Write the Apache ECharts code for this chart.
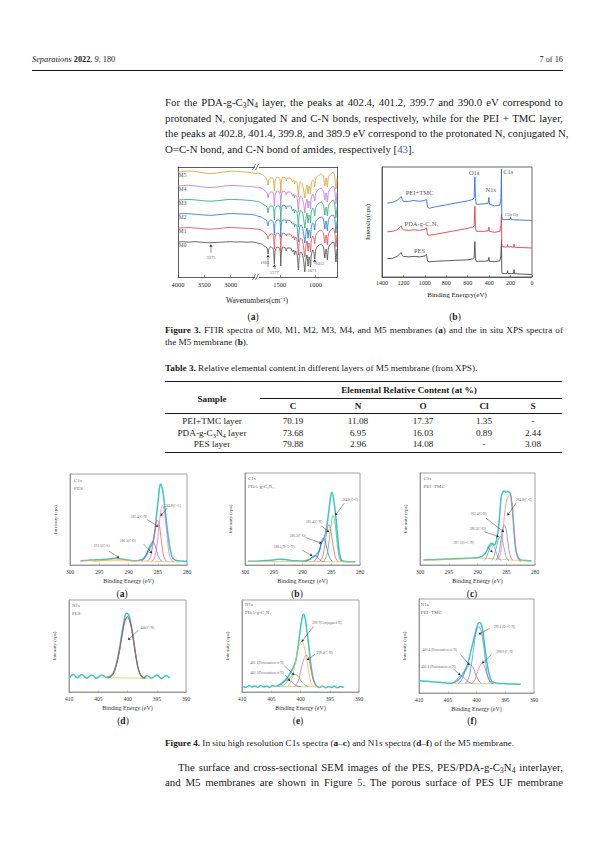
<!DOCTYPE html>
<html>
<head>
<meta charset="utf-8">
<title>Separations 2022, 9, 180 — page 7</title>
<script src="https://cdn.jsdelivr.net/npm/echarts@6.0.0/dist/echarts.min.js"></script>
<style>
html,body{margin:0;padding:0;background:#fff;}
#page{position:relative;width:595px;height:842px;overflow:hidden;font-family:'Liberation Serif','Times New Roman',serif;color:#1a1a1a;}
#chart{position:absolute;left:0;top:0;width:595px;height:842px;}
.t{position:absolute;white-space:nowrap;}
.body{left:165px;width:398px;font-size:10.8px;line-height:12px;}
.j{text-align:justify;text-align-last:justify;}
.cap{left:165px;width:398px;font-size:9.2px;line-height:11px;}
sub{font-size:0.7em;vertical-align:-0.25em;line-height:0;}
.rule{position:absolute;background:#1a1a1a;}
.c{position:absolute;transform:translateX(-50%);white-space:nowrap;font-size:9.2px;line-height:10px;}
.lbl{position:absolute;transform:translateX(-50%);font-size:9.5px;line-height:10px;}
.ref{color:#3b62a8;}
</style>
</head>
<body>
<div id="page">
  <div id="chart"></div>

  <div class="t" style="left:32px;top:55px;font-size:8.3px;line-height:10px;"><i>Separations</i> <b>2022</b>, <i>9</i>, 180</div>
  <div class="t" style="right:32px;top:55px;font-size:8.3px;line-height:10px;">7 of 16</div>
  <div class="rule" style="left:32px;top:70px;width:531px;height:0.8px;"></div>

  <div class="t body j" style="top:96px;">For the PDA-g-C<sub>3</sub>N<sub>4</sub> layer, the peaks at 402.4, 401.2, 399.7 and 390.0 eV correspond to</div>
  <div class="t body j" style="top:111.5px;">protonated N, conjugated N and C-N bonds, respectively, while for the PEI + TMC layer,</div>
  <div class="t body j" style="top:127px;">the peaks at 402.8, 401.4, 399.8, and 389.9 eV correspond to the protonated N, conjugated N,</div>
  <div class="t body" style="top:142.5px;">O=C-N bond, and C-N bond of amides, respectively [<span class="ref">43</span>].</div>

  <div class="lbl" style="left:253px;top:312px;">(<b>a</b>)</div>
  <div class="lbl" style="left:455px;top:312px;">(<b>b</b>)</div>

  <div class="t cap j" style="top:324.5px;"><b>Figure 3.</b> FTIR spectra of M0, M1, M2, M3, M4, and M5 membranes (<b>a</b>) and the in situ XPS spectra of</div>
  <div class="t cap" style="top:336.5px;">the M5 membrane (<b>b</b>).</div>

  <div class="t cap" style="top:362.5px;"><b>Table 3.</b> Relative elemental content in different layers of M5 membrane (from XPS).</div>
  <div id="table"></div>

  <div class="lbl" style="left:122px;top:589px;">(<b>a</b>)</div>
  <div class="lbl" style="left:297px;top:589px;">(<b>b</b>)</div>
  <div class="lbl" style="left:472px;top:589px;">(<b>c</b>)</div>
  <div class="lbl" style="left:123px;top:716px;">(<b>d</b>)</div>
  <div class="lbl" style="left:298px;top:716px;">(<b>e</b>)</div>
  <div class="lbl" style="left:472px;top:716px;">(<b>f</b>)</div>

  <div class="t cap" style="top:737.5px;"><b>Figure 4.</b> In situ high resolution C1s spectra (<b>a</b>–<b>c</b>) and N1s spectra (<b>d</b>–<b>f</b>) of the M5 membrane.</div>

  <div class="t body j" style="top:761px;left:178px;width:385px;">The surface and cross-sectional SEM images of the PES, PES/PDA-g-C<sub>3</sub>N<sub>4</sub> interlayer,</div>
  <div class="t body j" style="top:776px;">and M5 membranes are shown in Figure <span class="ref">5</span>. The porous surface of PES UF membrane</div>
</div>

<script>
// ---------------- Table 3 data ----------------
const tableCols = ['C', 'N', 'O', 'Cl', 'S'];
const tableSamples = ['PEI+TMC layer', 'PDA-g-C<sub>3</sub>N<sub>4</sub> layer', 'PES layer'];
const tableValues = [
  ['70.19', '11.08', '17.37', '1.35', '-'],
  ['73.68', '6.95', '16.03', '0.89', '2.44'],
  ['79.88', '2.96', '14.08', '-', '3.08']
];

// ---------------- Figure 3a: FTIR ----------------
const ftirLeftX = [4000,3900,3800,3700,3600,3500,3400,3300,3200,3100,3000,2900,2800,2700,2600,2500];
const ftirRightX = [1820,1760,1720,1690,1675,1665,1655,1630,1600,1587,1577,1567,1540,1505,1494,1487,1480,1460,1420,1410,1395,1350,1320,1305,1295,1280,1260,1250,1240,1230,1210,1185,1165,1150,1140,1120,1105,1092,1080,1071,1060,1040,1025,1012,1000,970,920,890,870,860,850,835,820,790,750,730,715,705,700];
const M0_left = [0,0.3,-0.2,0.3,0,-0.4,-0.8,-0.5,-0.2,0,0.3,0,0.2,-0.2,0,-0.6];
const M1_left = [0,0.2,0.4,0,-0.3,-0.8,-1.2,-0.8,-0.3,0.2,0.5,0.2,0,-0.3,-0.5,-1.2];
const M2_left = [0,0.4,0.2,-0.2,-0.6,-1,-1.3,-1,-0.5,0,0.4,0.3,0,-0.2,-0.6,-1.5];
const M3_left = [0,0.3,0.5,0.2,-0.3,-0.9,-1.2,-0.9,-0.4,0.2,0.6,0.4,0.2,-0.2,-0.6,-1.4];
const M4_left = [0,0.4,0.6,0.3,-0.4,-1.1,-1.5,-1.2,-0.6,0,0.5,0.4,0.1,-0.3,-0.7,-1.6];
const M5_left = [0,0.5,0.9,0.6,-0.2,-1,-1.6,-1.3,-0.5,0.3,0.8,0.6,0.3,-0.2,-0.8,-1.8];
const M0_right = [-1,-2,-4,-5,-7,-12,-7,-5,-6,-9,-22,-9,-5,-6,-10,-24,-10,-5,-6,-9,-6,-6,-10,-8,-13,-9,-12,-18,-28,-16,-10,-12,-20,-30,-20,-13,-24,-15,-18,-25,-13,-8,-10,-17,-8,-4,-2,-5,-16,-8,-7,-18,-6,-2,0,-5,-20,-11,-7];
const M1_right = [-1,-2,-4,-6,-8,-11,-8,-6,-6,-9,-21,-9,-5,-6,-10,-23,-10,-5,-6,-8,-6,-6,-10,-8,-12,-9,-12,-18,-27,-16,-10,-12,-21,-29,-20,-13,-23,-15,-17,-24,-13,-8,-10,-16,-8,-4,-2,-5,-15,-8,-7,-17,-6,-2,0,-5,-19,-11,-7];
const M2_right = [-2,-3,-5,-6,-9,-12,-8,-6,-7,-10,-21,-9,-6,-6,-10,-23,-10,-6,-6,-9,-6,-7,-10,-9,-13,-10,-12,-19,-28,-16,-11,-13,-21,-29,-21,-14,-24,-16,-18,-24,-13,-9,-10,-16,-8,-5,-3,-5,-15,-8,-7,-17,-6,-2,-1,-5,-19,-11,-7];
const M3_right = [-1,-3,-5,-6,-8,-13,-8,-6,-6,-9,-20,-9,-6,-6,-10,-22,-10,-5,-6,-9,-6,-6,-11,-9,-13,-10,-12,-18,-27,-15,-10,-12,-20,-28,-20,-13,-23,-15,-17,-23,-12,-8,-10,-16,-8,-4,-2,-5,-15,-8,-7,-16,-6,-2,0,-5,-18,-10,-7];
const M4_right = [-1,-2,-4,-6,-8,-12,-8,-6,-6,-9,-20,-9,-5,-6,-10,-22,-10,-5,-6,-9,-6,-6,-10,-8,-12,-9,-11,-17,-26,-15,-10,-12,-19,-27,-19,-13,-22,-15,-17,-23,-12,-8,-10,-15,-8,-4,-2,-5,-14,-8,-7,-16,-6,-2,0,-5,-18,-10,-6];
const M5_right = [-1,-2,-4,-6,-9,-13,-8,-6,-6,-9,-19,-9,-5,-6,-10,-21,-10,-5,-6,-9,-6,-6,-10,-8,-12,-9,-11,-17,-25,-15,-10,-12,-19,-26,-19,-13,-22,-14,-16,-22,-12,-8,-9,-15,-7,-4,-2,-4,-14,-7,-6,-15,-5,-2,0,-5,-17,-10,-6];
const ftirNames = ['M0','M1','M2','M3','M4','M5'];
const ftirTickLeft = [4000, 3500, 3000];
const ftirTickRight = [1500, 1000];

// ---------------- Figure 3b: XPS survey ----------------
const surveyBE = [1350,1300,1260,1230,1220,1212,1200,1150,1100,1050,1000,985,975,960,900,800,700,600,550,540,533,528,520,500,450,410,402,397,350,300,290,285,282,278,250,232,228,224,205,200,195,172,168,163,100,0];
const surveyTMC = [75.3,76,78,81,82,79,77,77,78,77,78,79,71,70,71.5,73.5,75.5,77.5,79,81,102,80,74,74,74.5,75,81,74,72.5,73,80,110,62,59,58.5,58.5,58.8,58.5,58.5,61,58.5,58.3,58.8,58.3,58,57.5];
const surveyPDA = [46,46.5,48,51,52,49,48,47.5,48,47.5,48.5,50,43,42.5,43.5,45.5,47.5,49.5,51,52,72,50,46.5,46.5,46.5,47,51,46.5,45.5,46.5,52,64,33,31,30.5,30.5,33,30.5,30.5,31.5,30.5,30.3,33.5,30.3,30,29.5];
const surveyPES = [18.7,19,21,24,25,22,21,20.5,21,20.5,21.5,23,16,15.5,16,16.5,17,17.5,18.5,19.5,36,18,16,16,16,16.5,20,16,15.5,16.5,22,38,5,3.5,3.5,3.5,6.5,3.5,3.5,3.8,3.5,3.4,7.5,3.4,3,2.5];

// ---------------- Figure 4: high-resolution C1s / N1s ----------------
const c1sPES_raw = [[298.2,4.8],[297,5.2],[296,5.6],[295,5.8],[294,6.2],[293,7],[292.3,7.4],[291.5,7],[290.5,6],[289.5,5],[288.6,4.8],[287.7,6],[287.2,9],[286.8,13],[286.2,20],[285.8,26],[285.5,36],[285.2,55],[284.9,73],[284.7,85],[284.5,89],[284.3,86],[284.1,80],[283.8,64],[283.5,47],[283.2,31],[282.9,18],[282.6,10],[282.3,6.6],[281.8,5],[281.2,4.4],[280.5,4.2],[280,4]];
const c1sPES_CC = [[286,4],[285.5,9],[285.1,24],[284.8,42],[284.5,58],[284.2,66],[283.9,60],[283.6,44],[283.3,25],[283,11],[282.6,5],[282.2,4]];
const c1sPES_CN = [[286.8,4],[286.3,8],[285.9,20],[285.5,38],[285.1,49],[284.8,46],[284.5,33],[284.2,18],[283.9,8],[283.5,4]];
const c1sPES_CO = [[287.8,4],[287.3,7],[286.8,14],[286.3,22],[285.9,25.5],[285.5,22],[285.1,13],[284.7,7],[284.3,4]];
const c1sPES_CS = [[296,4],[294.5,4.8],[293,6],[292,6.5],[291,6],[290,5],[289,4.2]];
const c1sPES_bg = [[298.2,4.4],[294,4.8],[290,4.6],[287,4.3],[285,4],[283,3.7],[281,3.5]];

const c1sPDA_raw = [[299.5,4],[298,4.2],[296.5,4.8],[295,5.5],[294,6.3],[293,6],[292,5],[291,4.5],[290,4.3],[289.5,4.7],[288.8,6],[288.3,8],[287.8,10],[287.4,12.7],[287,17],[286.7,24],[286.3,28],[286,35],[285.7,45],[285.4,60],[285.2,70],[284.9,79],[284.7,76],[284.5,68],[284.2,52],[284,39],[283.8,25],[283.6,14],[283.4,8],[283.2,5],[282.5,3.8],[281.5,3.5],[280.8,3.5]];
const c1sPDA_CC = [[286.3,4],[285.8,10],[285.4,25],[285,45],[284.7,54],[284.4,48],[284.1,32],[283.8,15],[283.5,6],[283.1,4]];
const c1sPDA_CN = [[287,4],[286.5,9],[286.1,22],[285.7,38],[285.4,44],[285.1,38],[284.7,22],[284.3,9],[283.9,4]];
const c1sPDA_CO = [[288,4],[287.5,8],[287,17],[286.7,25],[286.4,29],[286.1,26],[285.7,17],[285.3,8],[284.8,4]];
const c1sPDA_NCN = [[289.5,3.8],[289,5],[288.5,7.5],[288,10],[287.6,9.5],[287.2,7],[286.7,4.5],[286.2,3.8]];
const c1sPDA_bg = [[299.5,3.8],[294,3.9],[290,3.8],[286,3.7],[282,3.5],[280.8,3.5]];

const c1sTMC_raw = [[299.4,5.4],[298,5.8],[296,6.3],[294,6.8],[292,7.3],[290.1,8],[289.4,9],[288.9,10.9],[288.5,14],[288.2,18],[287.9,21.5],[287.6,23.6],[287.3,23],[287.1,21.7],[286.9,23],[286.7,27],[286.5,34],[286.3,43],[286.1,58],[285.9,73],[285.7,78],[285.5,80],[285.3,80.5],[285.1,79],[284.9,79.5],[284.8,80],[284.6,79.5],[284.3,78],[284.1,70],[283.9,58],[283.7,41],[283.5,25],[283.3,15],[283,9],[282.5,5.4],[281.5,4.8],[280.6,4.5]];
const c1sTMC_CC = [[286.5,5],[286,12],[285.6,35],[285.2,60],[284.8,73],[284.4,76],[284,66],[283.6,38],[283.2,13],[282.8,5],[282.4,4]];
const c1sTMC_CN = [[286.8,5],[286.3,12],[285.9,28],[285.6,40],[285.3,43],[285,38],[284.7,24],[284.3,10],[283.9,5]];
const c1sTMC_CO = [[287.5,5],[287.1,10],[286.7,20],[286.3,29],[286,31],[285.7,27],[285.3,16],[284.9,7],[284.5,4.5]];
const c1sTMC_OCN = [[288.8,5],[288.4,9],[288,16],[287.7,21],[287.4,22.5],[287.1,20],[286.7,13],[286.3,7],[285.9,5]];
const c1sTMC_bg = [[299.4,5],[295,6],[291,7],[289,7.3],[287,6.8],[285,5.8],[283,5],[281,4.5]];

const n1sPES_raw = [[409.8,16],[409.3,19],[408.6,15.5],[407.8,19],[407,15],[406.1,18.5],[405.3,15],[404.4,18.5],[403.6,16],[403,17],[402.5,20],[402,28],[401.5,43],[401,62],[400.6,77],[400.2,85.5],[399.8,84],[399.4,74],[399,58],[398.6,40],[398.2,26],[397.8,19],[397.3,15],[396.7,18],[395.9,15],[395,18.5],[394.2,14.5],[393.4,18],[392.8,15]];
const n1sPES_CN = [[403.5,15],[402.8,17],[402.2,24],[401.6,38],[401,58],[400.5,75],[400.1,81],[399.6,76],[399.1,60],[398.6,40],[398.1,24],[397.5,16.5],[397,15]];
const n1sPES_env = [[403.3,15.2],[402.6,18],[402,27],[401.4,43],[400.9,63],[400.4,78],[400,82],[399.5,75],[399,58],[398.5,37],[398,22],[397.4,16],[396.8,15.2]];
const n1sPES_bg = [[404.5,15.5],[400,15.2],[396,15]];

const n1sPDA_raw = [[409.8,6],[409.3,5],[408.8,7],[408.3,5.5],[407.8,6.5],[407.3,5],[406.8,7],[406.3,5.5],[405.8,6.5],[405.3,5],[404.8,7],[404.3,6],[403.8,7.5],[403.3,9],[402.8,12],[402.3,15],[401.8,20],[401.3,26],[400.8,34],[400.4,50],[400.1,65],[399.8,78],[399.5,84.5],[399.2,80],[398.9,66],[398.6,51],[398.3,34],[398,20],[397.6,10],[397.2,6],[396.7,5],[396.2,6.5],[395.7,4.5],[395.2,6],[394.7,5],[394.2,6.5],[393.7,4.5],[393.2,6],[392.6,5]];
const n1sPDA_conj = [[402.2,6],[401.6,12],[401,28],[400.5,45],[400.1,53],[399.8,55],[399.4,50],[399,38],[398.6,22],[398.2,10],[397.8,6]];
const n1sPDA_CN = [[401,6],[400.4,12],[399.9,25],[399.4,36],[399,40],[398.6,36],[398.2,24],[397.7,11],[397.2,6]];
const n1sPDA_p1 = [[403.3,6],[402.6,9],[402,14],[401.4,18],[400.9,19],[400.4,17],[399.9,12],[399.3,8],[398.7,6]];
const n1sPDA_p2 = [[403.8,6],[403.3,8],[402.8,11],[402.2,13],[401.7,12],[401.2,9],[400.6,6.5],[400,6]];
const n1sPDA_bg = [[405,6],[400,5.8],[396,5.6]];

const n1sTMC_raw = [[409.8,13],[409,12.5],[408.2,12.3],[407.4,11.8],[406.6,11.5],[405.8,11],[405,10.5],[404.4,10.3],[403.9,11],[403.4,12.8],[402.9,15.5],[402.5,19],[402,24],[401.6,30],[401.3,36],[401,44],[400.6,54],[400.3,62],[400,69],[399.7,74],[399.4,75],[399.1,72],[398.8,62],[398.6,51],[398.3,38],[398,26],[397.7,18],[397.4,12.8],[396.9,11],[396.4,10.3],[395.5,10],[394.5,9.7],[393.5,9.5],[392.3,9.2]];
const n1sTMC_OCN = [[402,10],[401.4,15],[400.9,30],[400.4,52],[400,66],[399.6,70.5],[399.2,66],[398.8,52],[398.4,32],[398,17],[397.5,11],[397,10]];
const n1sTMC_CN = [[400.8,10],[400.3,14],[399.8,23],[399.3,30],[399,31.6],[398.6,28],[398.2,20],[397.7,13],[397.2,10]];
const n1sTMC_p1 = [[403.2,10],[402.6,14],[402.1,21],[401.6,27],[401.1,30],[400.6,27],[400.1,19],[399.6,13],[399.1,10]];
const n1sTMC_p2 = [[404.5,10],[404,11.5],[403.5,14],[403,17.5],[402.7,18.5],[402.3,17],[401.8,14],[401.3,11.5],[400.8,10]];
const n1sTMC_bg = [[404.5,10.5],[400,10],[396,9.8]];

// ---------------- Layout / annotation config (not data) ----------------
const FONT = 'Liberation Serif';
const ftirOffsets = [35, 49, 63, 77, 91, 105];
const ftirColors = ['#555555', '#e8505a', '#2f7fd8', '#2bb07a', '#c27ae6', '#e0a43a'];

const grids = [
  {left:178, top:167, width:79, height:110},
  {left:257, top:167, width:80, height:110},
  {left:382, top:167, width:150, height:110, show:true, borderColor:'#444', borderWidth:0.8},
  {left:70, top:474, width:117, height:91, show:true, borderColor:'#8a8a8a', borderWidth:0.8},
  {left:245, top:473, width:115, height:92, show:true, borderColor:'#8a8a8a', borderWidth:0.8},
  {left:420, top:473, width:115, height:92, show:true, borderColor:'#8a8a8a', borderWidth:0.8},
  {left:69, top:600, width:117, height:92, show:true, borderColor:'#8a8a8a', borderWidth:0.8},
  {left:242, top:600, width:117, height:92, show:true, borderColor:'#8a8a8a', borderWidth:0.8},
  {left:419, top:599, width:115, height:94, show:true, borderColor:'#8a8a8a', borderWidth:0.8}
];

const notesSurvey = [
  {t:'O1s', at:[540,106]}, {t:'C1s', at:[268,107], align:'left'}, {t:'N1s', at:[385,89]},
  {t:'PEI+TMC', at:[1050,86]}, {t:'PDA-g-C₃N₄', at:[1030,54]}, {t:'PES', at:[1050,27]},
  {t:'Cl2p S2p', at:[190,63.5], fs:3.5}
];
const notesFtirLeft = [
  {t:'M5', at:[3985,102.5], align:'left'}, {t:'M4', at:[3985,88.5], align:'left'},
  {t:'M3', at:[3985,74.5], align:'left'}, {t:'M2', at:[3985,60.5], align:'left'},
  {t:'M1', at:[3985,46.5], align:'left'}, {t:'M0', at:[3985,32.5], align:'left'},
  {t:'3375', at:[3375,20], fs:4.5, arrow:[[3375,24],[3375,32.5]]}
];
const notesFtirRight = [
  {t:'1665', at:[1712,15], fs:4.5, arrow:[[1665,10],[1665,22]]},
  {t:'1577', at:[1577,5], fs:4.5, arrow:[[1577,8],[1577,12.5]]},
  {t:'1071', at:[1050,6.5], fs:4.5},
  {t:'1012', at:[1005,14], fs:4.5, align:'left', arrow:[[1012,13],[1012,17.5]]}
];
const notesA = [
  {t:'C1s', at:[299.3,93], align:'left', fs:5}, {t:'PES', at:[299.3,84], align:'left', fs:5},
  {t:'284.8(C-C)', at:[282.4,65], arrow:[[283.4,62.5],[284.5,54]]},
  {t:'285.4(C-N)', at:[288.2,53], arrow:[[286.8,50],[284.9,42]]},
  {t:'286.3(C-O)', at:[290.1,26.4], arrow:[[287.4,23],[286.0,13]]},
  {t:'291.5(C-S)', at:[294.6,21], arrow:[[293.3,15],[291.6,8]]}
];
const notesB = [
  {t:'C1s', at:[299.5,93.5], align:'left', fs:5}, {t:'PDA-g-C₃N₄', at:[299.5,85], align:'left', fs:5},
  {t:'284.8(C-C)', at:[281.75,70.6], arrow:[[282.75,67],[284.3,54]]},
  {t:'285.4(C-N)', at:[288,47], arrow:[[286.7,42.4],[285.4,36]]},
  {t:'286.3(C-O)', at:[290.8,32], arrow:[[289.4,29.7],[286.7,23.6]]},
  {t:'288.1(N-C=N)', at:[293.2,19.2], arrow:[[290.1,16.3],[288.3,10]]}
];
const notesC = [
  {t:'C1s', at:[299.4,93.5], align:'left', fs:5}, {t:'PEI+TMC', at:[299.4,85], align:'left', fs:5},
  {t:'284.8(C-C)', at:[281.9,70.6], arrow:[[283.2,68],[284.8,54]]},
  {t:'285.4(C-N)', at:[289.8,55], arrow:[[288.5,50.7],[285.4,36]]},
  {t:'286.3(C-O)', at:[290,39], arrow:[[288.8,36],[286.3,30.8]]},
  {t:'287.1(O=C-N)', at:[292.4,23.6], arrow:[[288.3,20],[287.4,13.8]]}
];
const notesD = [
  {t:'N1s', at:[409.5,93.8], align:'left', fs:5}, {t:'PES', at:[409.5,85.5], align:'left', fs:5},
  {t:'400(C-N)', at:[396.6,70], arrow:[[398.2,67],[399.9,56.5]]}
];
const notesE = [
  {t:'N1s', at:[409.5,94.6], align:'left', fs:5}, {t:'PDA-g-C₃N₄', at:[409.5,86], align:'left', fs:5},
  {t:'399.7(Conjugated N)', at:[395.5,74.6], arrow:[[397.8,71],[399.8,54.7]]},
  {t:'399.0(C-N)', at:[395.9,42], arrow:[[397.5,41],[398.9,34.8]]},
  {t:'401.1(Protonation of N)', at:[405.7,31], arrow:[[402.8,28.6],[401.1,18.5]]},
  {t:'402.1(Protonation of N)', at:[405.7,20.3], arrow:[[402.6,18.5],[401.8,12]]}
];
const notesF = [
  {t:'N1s', at:[409.7,94.4], align:'left', fs:5}, {t:'PEI+TMC', at:[409.7,85.8], align:'left', fs:5},
  {t:'399.8 (O=C-N)', at:[395.2,70.6], arrow:[[397.7,68.8],[399.6,62.4]]},
  {t:'401.4 (Protonation of N)', at:[406.4,45.7], arrow:[[402.8,41],[401.2,29.8]]},
  {t:'398.9 (C-N)', at:[395.1,43.3], arrow:[[397.4,41],[399.0,31.6]]},
  {t:'402.8 (Protonation of N)', at:[406.6,28], arrow:[[404,25.5],[402.8,19]]}
];

// ---------------- Build table ----------------
(function buildTable(){
  const colX = [293, 358, 423, 484, 533];
  const rowY = [421, 432.5, 444];
  let h = '';
  h += '<div class="rule" style="left:165px;top:381px;width:397px;height:1px;"></div>';
  h += '<div class="c" style="left:409px;top:385px;"><b>Elemental Relative Content (at %)</b></div>';
  h += '<div class="rule" style="left:260px;top:397.5px;width:302px;height:0.6px;"></div>';
  h += '<div class="c" style="left:212px;top:394px;"><b>Sample</b></div>';
  tableCols.forEach((c, i) => { h += `<div class="c" style="left:${colX[i]}px;top:400.5px;"><b>${c}</b></div>`; });
  h += '<div class="rule" style="left:165px;top:412.5px;width:397px;height:0.6px;"></div>';
  tableSamples.forEach((s, r) => {
    h += `<div class="c" style="left:212px;top:${rowY[r]-5}px;">${s}</div>`;
    tableValues[r].forEach((v, i) => { h += `<div class="c" style="left:${colX[i]}px;top:${rowY[r]-5}px;">${v}</div>`; });
  });
  h += '<div class="rule" style="left:165px;top:452px;width:397px;height:1px;"></div>';
  document.getElementById('table').innerHTML = h;
})();

// ---------------- Chart ----------------
const chart = echarts.init(document.getElementById('chart'), null, {renderer:'svg', width:595, height:842});

const noSplit = {show:false};
const plain = v => String(v);
const xAxes = [];
const yAxes = [];

function ftirX(gi, min, max, ticks, pos) {
  const bottom = pos === 'bottom';
  return {
    gridIndex: gi, type:'value', min, max, inverse:true, position: pos,
    axisLine:{show:true, onZero:false, lineStyle:{color:'#333', width:0.8}},
    axisTick: bottom ? {show:true, inside:true, length:2, customValues:ticks, lineStyle:{color:'#333', width:0.6}} : {show:false},
    axisLabel: bottom ? {show:true, customValues:ticks, formatter:plain, fontSize:6.5, margin:4, color:'#222', fontFamily:FONT} : {show:false},
    splitLine: noSplit
  };
}
xAxes.push(ftirX(0, 2500, 4000, ftirTickLeft, 'bottom'));   // 0
xAxes.push(ftirX(0, 2500, 4000, ftirTickLeft, 'top'));      // 1
xAxes.push(ftirX(1, 700, 1820, ftirTickRight, 'bottom'));   // 2
xAxes.push(ftirX(1, 700, 1820, ftirTickRight, 'top'));      // 3
xAxes.push({ // 4 survey
  gridIndex:2, type:'value', min:0, max:1400, interval:200, inverse:true,
  axisLine:{show:true, onZero:false, lineStyle:{color:'#444', width:0.8}},
  axisTick:{show:true, inside:true, length:2, lineStyle:{color:'#444', width:0.6}},
  axisLabel:{fontSize:6, margin:3, color:'#222', fontFamily:FONT, formatter:plain},
  splitLine:noSplit,
  name:'Binding Energry(eV)', nameLocation:'middle', nameGap:14,
  nameTextStyle:{fontSize:7, color:'#222', fontFamily:FONT}
});
const panelRanges = [[280,300],[280,300],[280,300],[390,410],[390,410],[390,410]];
panelRanges.forEach((r, i) => {
  xAxes.push({
    gridIndex:3+i, type:'value', min:r[0], max:r[1], interval:5, inverse:true,
    axisLine:{show:true, onZero:false, lineStyle:{color:'#8a8a8a', width:0.8}},
    axisTick:{show:true, inside:true, length:1.5, lineStyle:{color:'#8a8a8a', width:0.5}},
    axisLabel:{fontSize:5.5, margin:4, color:'#333', fontFamily:FONT, formatter:plain},
    splitLine:noSplit,
    name:'Binding Energy (eV)', nameLocation:'middle', nameGap:13,
    nameTextStyle:{fontSize:6, color:'#333', fontFamily:FONT}
  });
});

yAxes.push({gridIndex:0, type:'value', min:0, max:110, position:'left',
  axisLine:{show:true, onZero:false, lineStyle:{color:'#333', width:0.8}}, axisTick:{show:false}, axisLabel:{show:false}, splitLine:noSplit});
yAxes.push({gridIndex:1, type:'value', min:0, max:110, position:'right',
  axisLine:{show:true, onZero:false, lineStyle:{color:'#333', width:0.8}}, axisTick:{show:false}, axisLabel:{show:false}, splitLine:noSplit});
yAxes.push({gridIndex:2, type:'value', min:0, max:112,
  axisLine:{show:true, onZero:false, lineStyle:{color:'#444', width:0.8}}, axisTick:{show:false}, axisLabel:{show:false}, splitLine:noSplit,
  name:'Intensity(cps)', nameLocation:'middle', nameGap:11, nameTextStyle:{fontSize:6.5, color:'#222', fontFamily:FONT}});
for (let i = 0; i < 6; i++) {
  yAxes.push({gridIndex:3+i, type:'value', min:0, max:100,
    axisLine:{show:true, onZero:false, lineStyle:{color:'#8a8a8a', width:0.8}}, axisTick:{show:false}, axisLabel:{show:false}, splitLine:noSplit,
    name:'Intensity (cps)', nameLocation:'middle', nameGap:12, nameTextStyle:{fontSize:5, color:'#333', fontFamily:FONT}});
}

function curve(xi, yi, data, color, width, smooth, z) {
  return {type:'line', xAxisIndex:xi, yAxisIndex:yi, data, symbol:'none', showSymbol:false,
    smooth: smooth, lineStyle:{color, width}, silent:true, z: z || 3, animation:false};
}
function texts(xi, yi, notes, fs, color) {
  return {type:'scatter', xAxisIndex:xi, yAxisIndex:yi, symbolSize:1, itemStyle:{color:'rgba(0,0,0,0)'},
    silent:true, z:10, animation:false,
    data: notes.map(n => ({name:n.t, value:n.at, label:{align:n.align || 'center', fontSize:n.fs || fs}})),
    label:{show:true, position:'inside', formatter:'{b}', color: color || '#222', fontFamily:FONT, fontSize:fs, verticalAlign:'middle'}};
}
function arrows(xi, yi, notes) {
  return {type:'lines', coordinateSystem:'cartesian2d', xAxisIndex:xi, yAxisIndex:yi,
    symbol:['none','arrow'], symbolSize:2.5, silent:true, z:9, animation:false,
    lineStyle:{color:'#222', width:0.45, opacity:1},
    data: notes.filter(n => n.arrow).map(n => ({coords:n.arrow}))};
}

const series = [];

// FTIR traces (each spectrum drawn at its stacking offset)
const ftirLeft = [M0_left, M1_left, M2_left, M3_left, M4_left, M5_left];
const ftirRight = [M0_right, M1_right, M2_right, M3_right, M4_right, M5_right];
ftirNames.forEach((nm, k) => {
  const off = ftirOffsets[k];
  series.push(curve(0, 0, ftirLeftX.map((x, i) => [x, ftirLeft[k][i] + off]), ftirColors[k], 0.9, 0.4));
  series.push(curve(2, 1, ftirRightX.map((x, i) => [x, ftirRight[k][i] + off]), ftirColors[k], 0.9, 0.15));
});
series.push(texts(0, 0, notesFtirLeft, 5.5));
series.push(arrows(0, 0, notesFtirLeft));
series.push(texts(2, 1, notesFtirRight, 4.5));
series.push(arrows(2, 1, notesFtirRight));

// Survey
series.push(curve(4, 2, surveyBE.map((x, i) => [x, surveyPES[i]]), '#4a4a4a', 0.9, false));
series.push(curve(4, 2, surveyBE.map((x, i) => [x, surveyPDA[i]]), '#e8404a', 0.9, false));
series.push(curve(4, 2, surveyBE.map((x, i) => [x, surveyTMC[i]]), '#2f6fe0', 0.9, false));
series.push(texts(4, 2, notesSurvey, 6.5));

// Panels
const RAW = '#3cc6c6', BG = '#e8b84a';
function panel(i, raw, comps, bg, notes) {
  const xi = 5 + i, yi = 3 + i;
  series.push(curve(xi, yi, raw, RAW, 1.5, 0.35, 3));
  series.push(curve(xi, yi, bg, BG, 0.7, 0.3, 4));
  comps.forEach(c => series.push(curve(xi, yi, c[0], c[1], 0.7, 0.45, 5)));
  series.push(texts(xi, yi, notes, 3.5, '#333'));
  series.push(arrows(xi, yi, notes));
}
panel(0, c1sPES_raw, [[c1sPES_CS,'#f0a040'],[c1sPES_CO,'#4a5ae8'],[c1sPES_CN,'#ee4a5a'],[c1sPES_CC,'#d86ad8']], c1sPES_bg, notesA);
panel(1, c1sPDA_raw, [[c1sPDA_NCN,'#b050c8'],[c1sPDA_CO,'#3a5ad8'],[c1sPDA_CN,'#ee4a5a'],[c1sPDA_CC,'#2eb86a']], c1sPDA_bg, notesB);
panel(2, c1sTMC_raw, [[c1sTMC_OCN,'#5a8ad0'],[c1sTMC_CO,'#3ab08a'],[c1sTMC_CN,'#7a6ad8'],[c1sTMC_CC,'#f07a7a']], c1sTMC_bg, notesC);
panel(3, n1sPES_raw, [[n1sPES_env,'#555555'],[n1sPES_CN,'#e84a5a']], n1sPES_bg, notesD);
panel(4, n1sPDA_raw, [[n1sPDA_p2,'#3a70c8'],[n1sPDA_p1,'#3ab060'],[n1sPDA_CN,'#ee5a6a'],[n1sPDA_conj,'#f0b040']], n1sPDA_bg, notesE);
panel(5, n1sTMC_raw, [[n1sTMC_p2,'#a060c8'],[n1sTMC_p1,'#6a6ad8'],[n1sTMC_CN,'#ee5a6a'],[n1sTMC_OCN,'#3a8ad8']], n1sTMC_bg, notesF);

const graphic = [
  {type:'rect', shape:{x:255, y:164, width:4, height:6}, style:{fill:'#fff'}, z:100},
  {type:'rect', shape:{x:255, y:274, width:4, height:6}, style:{fill:'#fff'}, z:100},
  {type:'line', shape:{x1:252.5, y1:170, x2:255.5, y2:164}, style:{stroke:'#333', lineWidth:0.7}, z:101},
  {type:'line', shape:{x1:255.5, y1:170, x2:258.5, y2:164}, style:{stroke:'#333', lineWidth:0.7}, z:101},
  {type:'line', shape:{x1:252.5, y1:280, x2:255.5, y2:274}, style:{stroke:'#333', lineWidth:0.7}, z:101},
  {type:'line', shape:{x1:255.5, y1:280, x2:258.5, y2:274}, style:{stroke:'#333', lineWidth:0.7}, z:101},
  {type:'text', x:257, y:300, style:{text:'Wavenumbers(cm⁻¹)', fontSize:7.5, fontFamily:FONT, fill:'#222', align:'center', verticalAlign:'middle'}, z:101}
];

chart.setOption({
  animation:false,
  backgroundColor:'transparent',
  textStyle:{fontFamily:FONT},
  grid: grids,
  xAxis: xAxes,
  yAxis: yAxes,
  series: series,
  graphic: graphic
});
</script>
</body>
</html>
